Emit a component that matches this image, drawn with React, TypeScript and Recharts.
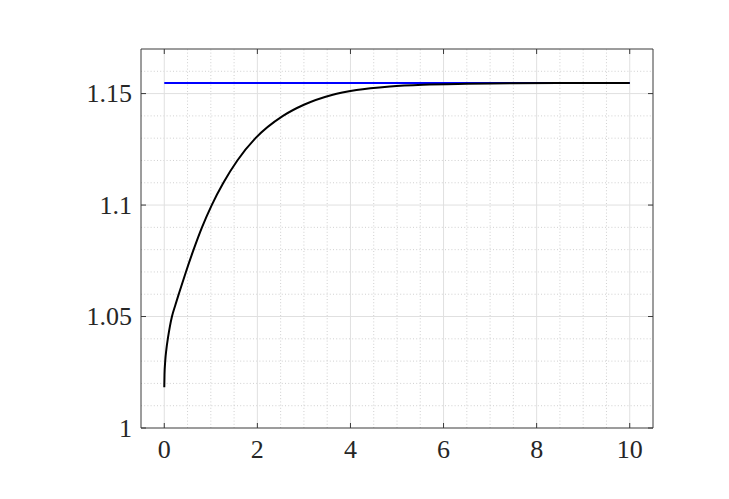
import React from 'react';
import { LineChart, Line, XAxis, YAxis, ReferenceLine } from 'recharts';

const TIME = [0, 0.005, 0.02, 0.045, 0.08, 0.12, 0.165, 0.24, 0.31, 0.465, 0.63, 0.81, 1.02, 1.27, 1.57, 1.96, 2.55, 3.0, 3.6, 4.13, 4.85, 5.56, 6.5, 7.5, 8.5, 10];
const RESPONSE = [1.0183, 1.024, 1.0299, 1.0353, 1.0405, 1.0455, 1.05, 1.0553, 1.06, 1.07, 1.08, 1.09, 1.1, 1.11, 1.12, 1.13, 1.14, 1.145, 1.1494, 1.1516, 1.1532, 1.154, 1.1544, 1.1546, 1.1547, 1.1547];
const REF_TIME = [0, 10];
const REF_LEVEL = [1.1547, 1.1547];

const X_DOMAIN = [-0.5, 10.5];
const Y_DOMAIN = [1, 1.17];
const X_TICKS = [0, 2, 4, 6, 8, 10];
const Y_TICKS = [1, 1.05, 1.1, 1.15];
const X_MINOR = [0.5, 1, 1.5, 2.5, 3, 3.5, 4.5, 5, 5.5, 6.5, 7, 7.5, 8.5, 9, 9.5];
const Y_MINOR = [1.01, 1.02, 1.03, 1.04, 1.06, 1.07, 1.08, 1.09, 1.11, 1.12, 1.13, 1.14, 1.16];

const curve = TIME.map((t, i) => ({ t, v: RESPONSE[i] }));
const ref = REF_TIME.map((t, i) => ({ t, v: REF_LEVEL[i] }));

const AXIS = '#3a3a3a';
const TEXT = '#262626';
const FONT = '"Liberation Serif", "Times New Roman", serif';
const TL = 5;

const BottomTick = (p: any) => (
  <g>
    <line x1={p.x} x2={p.x} y1={p.y} y2={p.y - TL} stroke={AXIS} strokeWidth={1} />
    <text x={p.x} y={p.y + 12} dy="0.71em" textAnchor="middle" fontSize={26} fontFamily={FONT} fill={TEXT}>
      {String(p.payload.value)}
    </text>
  </g>
);
const TopTick = (p: any) => (
  <line x1={p.x} x2={p.x} y1={p.y} y2={p.y + TL} stroke={AXIS} strokeWidth={1} />
);
const LeftTick = (p: any) => (
  <g>
    <line x1={p.x} x2={p.x + TL} y1={p.y} y2={p.y} stroke={AXIS} strokeWidth={1} />
    <text x={p.x - 9} y={p.y} dy="0.33em" textAnchor="end" fontSize={26} fontFamily={FONT} fill={TEXT}>
      {String(p.payload.value)}
    </text>
  </g>
);
const RightTick = (p: any) => (
  <line x1={p.x} x2={p.x - TL} y1={p.y} y2={p.y} stroke={AXIS} strokeWidth={1} />
);

export default function App() {
  return (
    <div style={{ position: 'absolute', left: 0, top: 0, background: '#fff' }}>
      <LineChart width={729} height={499} margin={{ top: 0, right: 0, bottom: 0, left: 0 }}>
        <XAxis xAxisId={0} type="number" dataKey="t" domain={X_DOMAIN} ticks={X_TICKS} interval={0}
          orientation="bottom" height={71} tickSize={0} tickMargin={0} tickLine={false}
          axisLine={{ stroke: AXIS, strokeWidth: 1 }} tick={BottomTick} allowDataOverflow />
        <XAxis xAxisId="top" type="number" dataKey="t" domain={X_DOMAIN} ticks={X_TICKS} interval={0}
          orientation="top" height={49} tickSize={0} tickMargin={0} tickLine={false}
          axisLine={{ stroke: AXIS, strokeWidth: 1 }} tick={TopTick} allowDataOverflow />
        <YAxis yAxisId={0} type="number" dataKey="v" domain={Y_DOMAIN} ticks={Y_TICKS} interval={0}
          orientation="left" width={141} tickSize={0} tickMargin={0} tickLine={false}
          axisLine={{ stroke: AXIS, strokeWidth: 1 }} tick={LeftTick} allowDataOverflow />
        <YAxis yAxisId="right" type="number" dataKey="v" domain={Y_DOMAIN} ticks={Y_TICKS} interval={0}
          orientation="right" width={76} tickSize={0} tickMargin={0} tickLine={false}
          axisLine={{ stroke: AXIS, strokeWidth: 1 }} tick={RightTick} allowDataOverflow />
        {X_MINOR.map((v) => (
          <ReferenceLine key={'xm' + v} x={v} stroke="#c4c4c4" strokeWidth={0.8} strokeDasharray="1 2.2" />
        ))}
        {Y_MINOR.map((v) => (
          <ReferenceLine key={'ym' + v} y={v} stroke="#c4c4c4" strokeWidth={0.8} strokeDasharray="1 2.2" />
        ))}
        {X_TICKS.map((v) => (
          <ReferenceLine key={'xM' + v} x={v} stroke="#e0e0e0" strokeWidth={1} />
        ))}
        {Y_TICKS.slice(1).map((v) => (
          <ReferenceLine key={'yM' + v} y={v} stroke="#e0e0e0" strokeWidth={1} />
        ))}
        <Line data={ref} dataKey="v" type="linear" stroke="#0000ff" strokeWidth={2} dot={false} isAnimationActive={false} />
        <Line data={curve} dataKey="v" type="monotone" stroke="#000000" strokeWidth={2} dot={false} isAnimationActive={false} />
      </LineChart>
    </div>
  );
}
